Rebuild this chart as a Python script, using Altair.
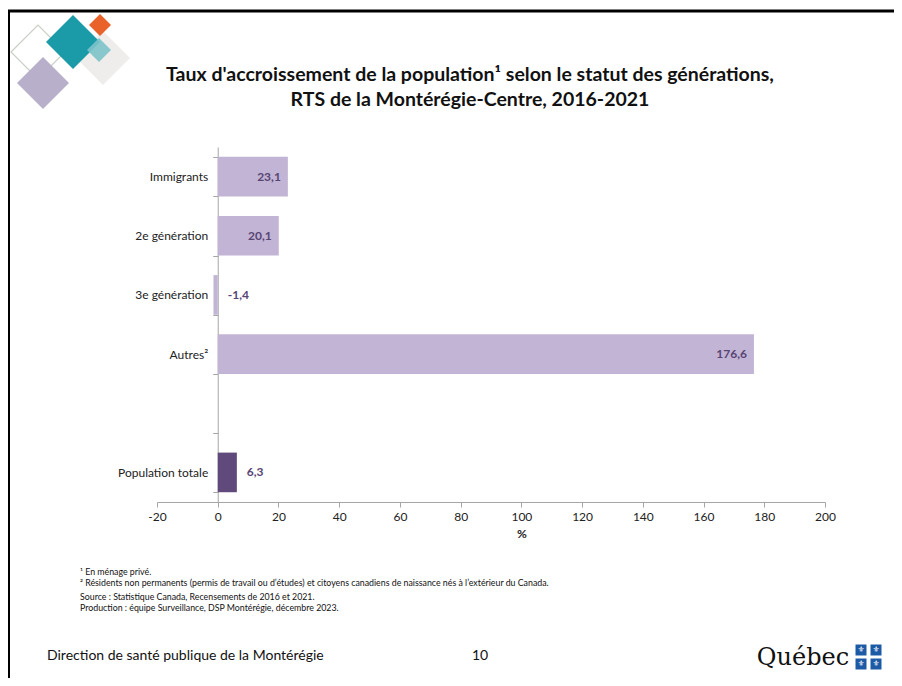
import altair as alt
import pandas as pd

# ---- data ----
categories = ["Immigrants", "2e génération", "3e génération", "Autres²", "Population totale"]
values = [23.1, 20.1, -1.4, 176.6, 6.3]
y_domain = ["Immigrants", "2e génération", "3e génération", "Autres²", " ", "Population totale"]
x_ticks = [-20, 0, 20, 40, 60, 80, 100, 120, 140, 160, 180, 200]

title_lines = ["Taux d'accroissement de la population¹ selon le statut des générations,",
               "RTS de la Montérégie-Centre, 2016-2021"]
footnotes = ["¹ En ménage privé.",
             "² Résidents non permanents (permis de travail ou d’études) et citoyens canadiens de naissance nés à l’extérieur du Canada."]
sources = ["Source : Statistique Canada, Recensements de 2016 et 2021.",
           "Production : équipe Surveillance, DSP Montérégie, décembre 2023."]
footer_left = "Direction de santé publique de la Montérégie"
page_no = "10"

df = pd.DataFrame({"cat": categories, "v": values})
df["lab"] = [f"{v:.1f}".replace(".", ",") for v in values]

FONT = "Lato"
LIGHT = "#c2b4d4"
DARK = "#604a7b"
LABC = "#584574"
AXC = "#a6a6a6"

# plot origin on page: (157, 147); plot 668 x 355
OX, OY = 157, 147
W, H = 668, 355
ZERO_SHIFT = 20 * W / 220.0

base = alt.Chart(df)
y = alt.Y("cat:N", scale=alt.Scale(domain=y_domain, paddingInner=0.33, paddingOuter=0.165),
          axis=alt.Axis(title=None, tickBand="extent", labelFont=FONT, labelFontSize=12,
                        labelColor="#222", tickSize=5, labelPadding=5, domainColor=AXC,
                        tickColor=AXC, grid=False, labelLimit=200, offset=-ZERO_SHIFT))
x = alt.X("v:Q", scale=alt.Scale(domain=[-20, 200], nice=False, zero=False),
          axis=alt.Axis(title="%", values=x_ticks, labelFont=FONT, labelFontSize=12, labelColor="#222",
                        labelExpr="datum.value + ''",
                        titleFont=FONT, titleFontSize=12, titleFontWeight="bold", titleColor="#222",
                        titleX=ZERO_SHIFT + (W - ZERO_SHIFT) / 2, titleAlign="center",
                        domainColor=AXC, tickColor=AXC, tickSize=5, grid=False,
                        labelPadding=4, titlePadding=6, labelFlush=False))

bars = base.mark_bar().encode(
    x=x, x2=alt.datum(0), y=y,
    color=alt.condition(alt.datum.cat == "Population totale", alt.value(DARK), alt.value(LIGHT)),
)
lab_in = base.transform_filter(alt.datum.v > 15).mark_text(
    align="right", baseline="middle", dx=-7, font=FONT, fontSize=12, fontWeight="bold", color=LABC
).encode(x="v:Q", y=alt.Y("cat:N"), text="lab:N")
lab_out = base.transform_filter(alt.datum.v <= 15).transform_calculate(
    lx="max(datum.v, 0)"
).mark_text(
    align="left", baseline="middle", dx=10, font=FONT, fontSize=12, fontWeight="bold", color=LABC
).encode(x="lx:Q", y=alt.Y("cat:N"), text="lab:N")

one = alt.Data(values=[{"k": 0}])


def txt(s, px, py, size, weight="normal", align="left", color="#111", font=FONT):
    return alt.Chart(one).mark_text(
        text=s, align=align, baseline="middle", fontSize=size, fontWeight=weight, color=color, font=font
    ).encode(x=alt.value(px - OX), y=alt.value(py - OY))


def diamond(cx, cy, r, color, opacity=1.0, stroke=None):
    kw = dict(shape="diamond", size=(2 * r) ** 2, opacity=opacity)
    if stroke:
        kw.update(filled=False, stroke=stroke, strokeWidth=1.2)
    else:
        kw.update(filled=True, fill=color, strokeWidth=0)
    return alt.Chart(one).mark_point(**kw).encode(x=alt.value(cx - OX), y=alt.value(cy - OY))


def square(cx, cy, s, color):
    return alt.Chart(one).mark_point(shape="square", size=s * s, filled=True, fill=color,
                                     opacity=1, strokeWidth=0).encode(
        x=alt.value(cx - OX), y=alt.value(cy - OY))


def hline(x1, x2, yy, w, color="#000"):
    return alt.Chart(one).mark_rule(strokeWidth=w, color=color).encode(
        x=alt.value(x1 - OX), x2=alt.value(x2 - OX), y=alt.value(yy - OY))


def vline(xx, y1, y2, w, color="#000"):
    return alt.Chart(one).mark_rule(strokeWidth=w, color=color).encode(
        x=alt.value(xx - OX), y=alt.value(y1 - OY), y2=alt.value(y2 - OY))


deco = [
    hline(8, 902, 11, 3),
    vline(9, 10, 686, 2),
    diamond(38, 52, 27, None, stroke="#c9cfc4"),
    diamond(103, 58, 27, "#efedec"),
    diamond(43, 83, 26, "#b8afcb"),
    diamond(73, 42, 27, "#1b9aa8"),
    diamond(100, 25, 11, "#e8622a"),
    diamond(99, 50, 12, "#7cc3ca", opacity=0.9),
]

texts = [
    txt(title_lines[0], 470, 75, 19.5, "bold", "center"),
    txt(title_lines[1], 470, 100, 19.5, "bold", "center"),
    txt(footnotes[0], 80, 572, 8.8),
    txt(footnotes[1], 80, 583, 8.8),
    txt(sources[0], 80, 597, 8.8),
    txt(sources[1], 80, 608, 8.8),
    txt(footer_left, 47, 656, 14),
    txt(page_no, 480, 656, 14, align="center"),
    txt("Québec", 803, 658, 24, align="center", color="#111", font="DejaVu Serif"),
]
logo = [
    square(861, 650, 11, "#1d5aa6"), square(876, 650, 11, "#1d5aa6"),
    square(861, 664, 11, "#1d5aa6"), square(876, 664, 11, "#1d5aa6"),
]
fleurs = [txt("⚜", px, py, 8, color="#ffffff", align="center", font="DejaVu Sans")
          for px, py in [(861, 650), (876, 650), (861, 664), (876, 664)]]

chart = alt.layer(bars, lab_in, lab_out, *deco, *texts, *logo, *fleurs).properties(
    width=W, height=H,
    padding={"left": OX - 8, "top": OY - 8, "right": 886 - (OX - 8) - W, "bottom": 670 - (OY - 8) - H},
    autosize=alt.AutoSizeParams(type="none"),
    background="#ffffff",
).configure_view(stroke=None)

chart.save("out.html", embed_options={"renderer": "svg", "actions": False})
